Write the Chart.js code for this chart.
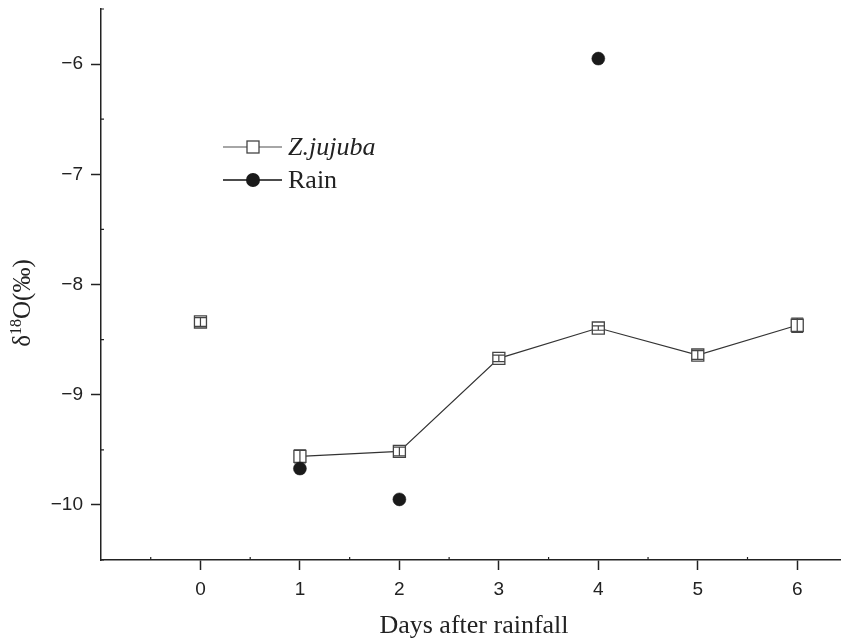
<!DOCTYPE html>
<html>
<head>
<meta charset="utf-8">
<script src="https://cdn.jsdelivr.net/npm/chart.js@4/dist/chart.umd.min.js"></script>
<style>
  html, body { margin: 0; padding: 0; background: #fff; }
  #wrap { width: 841px; height: 640px; }
</style>
</head>
<body>
<div id="wrap"><canvas id="c" width="841" height="640"></canvas></div>
<script>
// ---- data ----
const zDays = [0, 1, 2, 3, 4, 5, 6];
const zValues = [-8.34, -9.56, -9.515, -8.67, -8.395, -8.64, -8.37];
const zErrors = [0.04, 0.06, 0.04, 0.03, 0.02, 0.04, 0.065];
const rainDays = [1, 2, 4];
const rainValues = [-9.67, -9.95, -5.95];
const xTicks = [0, 1, 2, 3, 4, 5, 6];
const yTicks = [-10, -9, -8, -7, -6];
const xMinorTicks = [-0.5, 0.5, 1.5, 2.5, 3.5, 4.5, 5.5];
const yMinorTicks = [-10.5, -9.5, -8.5, -7.5, -6.5, -5.5];
const seriesNames = ['Z.jujuba', 'Rain'];
const xTitle = 'Days after rainfall';

const AXIS = '#222';
const LINE = '#333';
const SERIF = '"Liberation Serif", "Times New Roman", serif';

const extras = {
  id: 'extras',
  afterDatasetDraw(chart, args) {
    if (args.index !== 0) return;
    const ctx = chart.ctx, x = chart.scales.x, y = chart.scales.y;
    ctx.save();
    ctx.strokeStyle = '#444';
    ctx.lineWidth = 1.2;
    zDays.forEach((d, i) => {
      const px = x.getPixelForValue(d);
      const top = y.getPixelForValue(zValues[i] + zErrors[i]);
      const bot = y.getPixelForValue(zValues[i] - zErrors[i]);
      ctx.beginPath();
      ctx.moveTo(px, top); ctx.lineTo(px, bot);
      ctx.moveTo(px - 6, top); ctx.lineTo(px + 6, top);
      ctx.moveTo(px - 6, bot); ctx.lineTo(px + 6, bot);
      ctx.stroke();
    });
    ctx.restore();
  },
  afterDraw(chart) {
    const ctx = chart.ctx, x = chart.scales.x, y = chart.scales.y;
    const area = chart.chartArea;
    ctx.save();
    // minor ticks
    ctx.strokeStyle = AXIS;
    ctx.lineWidth = 1.2;
    ctx.beginPath();
    xMinorTicks.forEach(v => {
      const px = x.getPixelForValue(v);
      ctx.moveTo(px, area.bottom); ctx.lineTo(px, area.bottom - 3);
    });
    yMinorTicks.forEach(v => {
      const py = y.getPixelForValue(v);
      ctx.moveTo(area.left, py); ctx.lineTo(area.left + 3, py);
    });
    ctx.stroke();

    // x title
    ctx.fillStyle = '#222';
    ctx.font = '26px ' + SERIF;
    ctx.textAlign = 'center';
    ctx.textBaseline = 'middle';
    ctx.fillText(xTitle, 474, 626);

    // y title: δ18O(‰) with superscript
    ctx.save();
    ctx.translate(21, 303);
    ctx.rotate(-Math.PI / 2);
    const big = '25px ' + SERIF;
    const small = '16px ' + SERIF;
    ctx.textAlign = 'left';
    ctx.textBaseline = 'alphabetic';
    ctx.font = big; const w1 = ctx.measureText('δ').width;
    ctx.font = small; const w2 = ctx.measureText('18').width;
    ctx.font = big; const w3 = ctx.measureText('O(‰)').width;
    let sx = -(w1 + w2 + w3) / 2;
    ctx.font = big; ctx.fillText('δ', sx, 9); sx += w1;
    ctx.font = small; ctx.fillText('18', sx, 0); sx += w2;
    ctx.font = big; ctx.fillText('O(‰)', sx, 9);
    ctx.restore();

    // legend
    const lx1 = 223, lx2 = 282, cx = 253;
    const r1 = 147, r2 = 180;
    ctx.lineWidth = 1.5;
    ctx.strokeStyle = '#888';
    ctx.beginPath(); ctx.moveTo(lx1, r1); ctx.lineTo(lx2, r1); ctx.stroke();
    ctx.fillStyle = '#fff';
    ctx.strokeStyle = '#444';
    ctx.lineWidth = 1.3;
    ctx.fillRect(cx - 6, r1 - 6, 12, 12);
    ctx.strokeRect(cx - 6, r1 - 6, 12, 12);
    ctx.strokeStyle = '#111';
    ctx.lineWidth = 1.3;
    ctx.beginPath(); ctx.moveTo(lx1, r2); ctx.lineTo(lx2, r2); ctx.stroke();
    ctx.fillStyle = '#1a1a1a';
    ctx.beginPath(); ctx.arc(cx, r2, 7, 0, Math.PI * 2); ctx.fill();
    ctx.fillStyle = '#222';
    ctx.textAlign = 'left';
    ctx.textBaseline = 'middle';
    ctx.font = 'italic 26px ' + SERIF;
    ctx.fillText(seriesNames[0], 288, r1 + 1);
    ctx.font = '26px ' + SERIF;
    ctx.fillText(seriesNames[1], 288, r2 + 1);
    ctx.restore();
  }
};

const fmt = v => (v < 0 ? '\u2212' + Math.abs(v) : String(v));

new Chart(document.getElementById('c'), {
  type: 'scatter',
  data: {
    datasets: [
      {
        label: seriesNames[0],
        data: zDays.map((d, i) => ({ x: d, y: zValues[i] })),
        showLine: true,
        borderColor: LINE,
        borderWidth: 1.2,
        pointStyle: 'rect',
        pointRadius: 8.5,
        pointBorderColor: '#444',
        pointBorderWidth: 1.3,
        pointBackgroundColor: '#fff',
        segment: {
          borderColor: c => (c.p0DataIndex === 0 ? 'rgba(0,0,0,0)' : LINE)
        },
        order: 2
      },
      {
        label: seriesNames[1],
        data: rainDays.map((d, i) => ({ x: d, y: rainValues[i] })),
        showLine: false,
        pointStyle: 'circle',
        pointRadius: 6.5,
        pointBorderWidth: 0.5,
        pointBorderColor: '#1a1a1a',
        pointBackgroundColor: '#1a1a1a',
        order: 1
      }
    ]
  },
  options: {
    responsive: false,
    animation: false,
    devicePixelRatio: 1,
    layout: { autoPadding: false, padding: { top: 9, right: 0, left: 0, bottom: 0 } },
    plugins: { legend: { display: false }, tooltip: { enabled: false } },
    scales: {
      x: {
        type: 'linear',
        min: -1,
        max: 6.44,
        afterBuildTicks: s => { s.ticks = xTicks.map(v => ({ value: v })); },
        afterFit: s => { s.height = 80; s.paddingLeft = 0; s.paddingRight = 0; },
        ticks: {
          padding: 8,
          color: '#222',
          font: { family: '"Liberation Sans", Arial, sans-serif', size: 19 },
          callback: v => fmt(v),
          maxRotation: 0
        },
        grid: { display: true, drawOnChartArea: false, tickLength: 10, tickColor: AXIS, tickWidth: 1.5 },
        border: { display: true, color: AXIS, width: 1.5 }
      },
      y: {
        type: 'linear',
        min: -10.5,
        max: -5.5,
        afterBuildTicks: s => { s.ticks = yTicks.map(v => ({ value: v })); },
        afterFit: s => { s.width = 101; s.paddingTop = 0; s.paddingBottom = 0; },
        ticks: {
          padding: 8,
          color: '#222',
          font: { family: '"Liberation Sans", Arial, sans-serif', size: 19 },
          callback: v => fmt(v)
        },
        grid: { display: true, drawOnChartArea: false, tickLength: 10, tickColor: AXIS, tickWidth: 1.5 },
        border: { display: true, color: AXIS, width: 1.5 }
      }
    }
  },
  plugins: [extras]
});
</script>
</body>
</html>
